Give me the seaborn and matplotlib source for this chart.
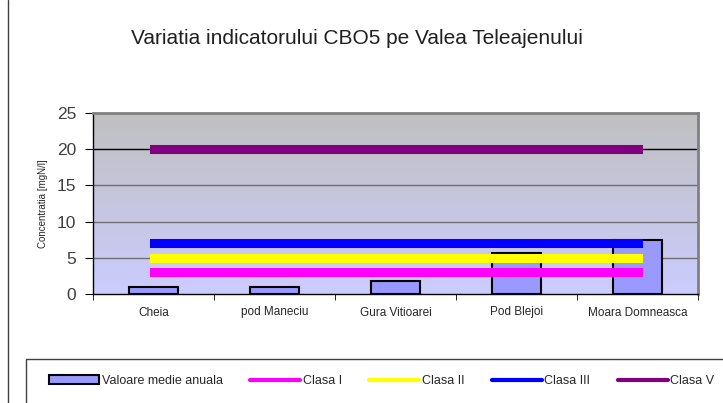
import numpy as np
import pandas as pd
import seaborn as sns
from matplotlib import pyplot as plt
from matplotlib.patches import Patch, Rectangle
from matplotlib.lines import Line2D
from matplotlib.colors import to_rgb


statii = ["Cheia", "pod Maneciu", "Gura Vitioarei", "Pod Blejoi", "Moara Domneasca"]
valoare_medie = [1.0, 1.0, 1.8, 5.6, 7.4]

clase = ["Clasa I", "Clasa II", "Clasa III", "Clasa V"]
limite_clase = [3, 5, 7, 20]
culori_clase = ["#ff00ff", "#ffff00", "#0000ff", "#800080"]

y_ticks = [0, 5, 10, 15, 20, 25]


def main():
    sns.set_style("white")
    plt.rcParams["font.family"] = ["Liberation Sans", "DejaVu Sans"]

    df_bar = pd.DataFrame({"statie": statii, "valoare": valoare_medie})
    line_records = []
    for clasa, lim in zip(clase, limite_clase):
        for s in statii:
            line_records.append({"statie": s, "clasa": clasa, "valoare": lim})
    df_lines = pd.DataFrame.from_records(line_records)

    fig = plt.figure(figsize=(7.23, 4.03), dpi=100)
    ax = fig.add_axes([93 / 723, 1 - 294 / 403, 605 / 723, 181 / 403])

    # gradient background of the plot area
    top, bottom = np.array(to_rgb("#c0c0c0")), np.array(to_rgb("#ccccff"))
    t = np.linspace(0, 1, 256)[:, None]
    grad = (top * (1 - t) + bottom * t)[:, None, :]
    ax.imshow(grad, extent=[-0.5, 4.5, 0, 25], aspect="auto", zorder=0)

    for y in y_ticks[1:-1]:
        ax.axhline(y, color="#707070" if y != 20 else "black", lw=1, zorder=1)

    sns.barplot(data=df_bar, x="statie", y="valoare", color="#9999ff", saturation=1,
                edgecolor="black", linewidth=1.5, width=0.4, ax=ax, zorder=2)
    sns.lineplot(data=df_lines, x="statie", y="valoare", hue="clasa", hue_order=clase,
                 palette=culori_clase, linewidth=6.5, ax=ax, legend=False, zorder=3,
                 solid_capstyle="projecting")

    ax.set_xlim(-0.5, 4.5)
    ax.set_ylim(0, 25)
    ax.set_yticks(y_ticks)
    ax.set_yticklabels([str(v) for v in y_ticks], fontsize=12.5, color="#404040")
    ax.set_xticks(range(len(statii)))
    ax.set_xticklabels(statii, fontsize=8.5)
    ax.set_xticks(np.arange(-0.5, len(statii), 1), minor=True)
    ax.tick_params(axis="x", which="major", length=0, pad=9)
    ax.tick_params(axis="x", which="minor", length=4, direction="out", color="black", bottom=True)
    ax.tick_params(axis="y", length=6, direction="out", color="black", left=True, pad=6)
    ax.set_xlabel("")
    ax.set_ylabel("Concentratia [mgN/l]", fontsize=7, labelpad=6)

    for side in ("left", "bottom"):
        ax.spines[side].set_color("black")
        ax.spines[side].set_linewidth(1)
    for side in ("top", "right"):
        ax.spines[side].set_visible(True)
        ax.spines[side].set_color("#808080")
        ax.spines[side].set_linewidth(2)

    fig.text(0.494, 1 - 38 / 403, "Variatia indicatorului CBO5 pe Valea Teleajenului",
             ha="center", va="center", fontsize=15, color="#202020")

    # frame lines of the original sheet
    fig.add_artist(Line2D([8 / 723, 8 / 723], [0, 1], color="#404040", lw=1))
    fig.add_artist(Rectangle((26 / 723, -0.05), 1.0, 1 - 359 / 403 + 0.05, fill=False,
                             edgecolor="#404040", lw=1))

    handles = [Patch(facecolor="#9999ff", edgecolor="black", linewidth=1.5)]
    handles += [Line2D([], [], color=c, lw=3) for c in culori_clase]
    labels = ["Valoare medie anuala"] + clase
    fig.legend(handles, labels, loc="center left", bbox_to_anchor=(38 / 723, 1 - 381 / 403),
               ncol=5, frameon=False, fontsize=9, handlelength=4.0, handleheight=0.7,
               columnspacing=2.2, handletextpad=0.2)

    fig.savefig("out.png", dpi=100)


if __name__ == "__main__":
    main()
